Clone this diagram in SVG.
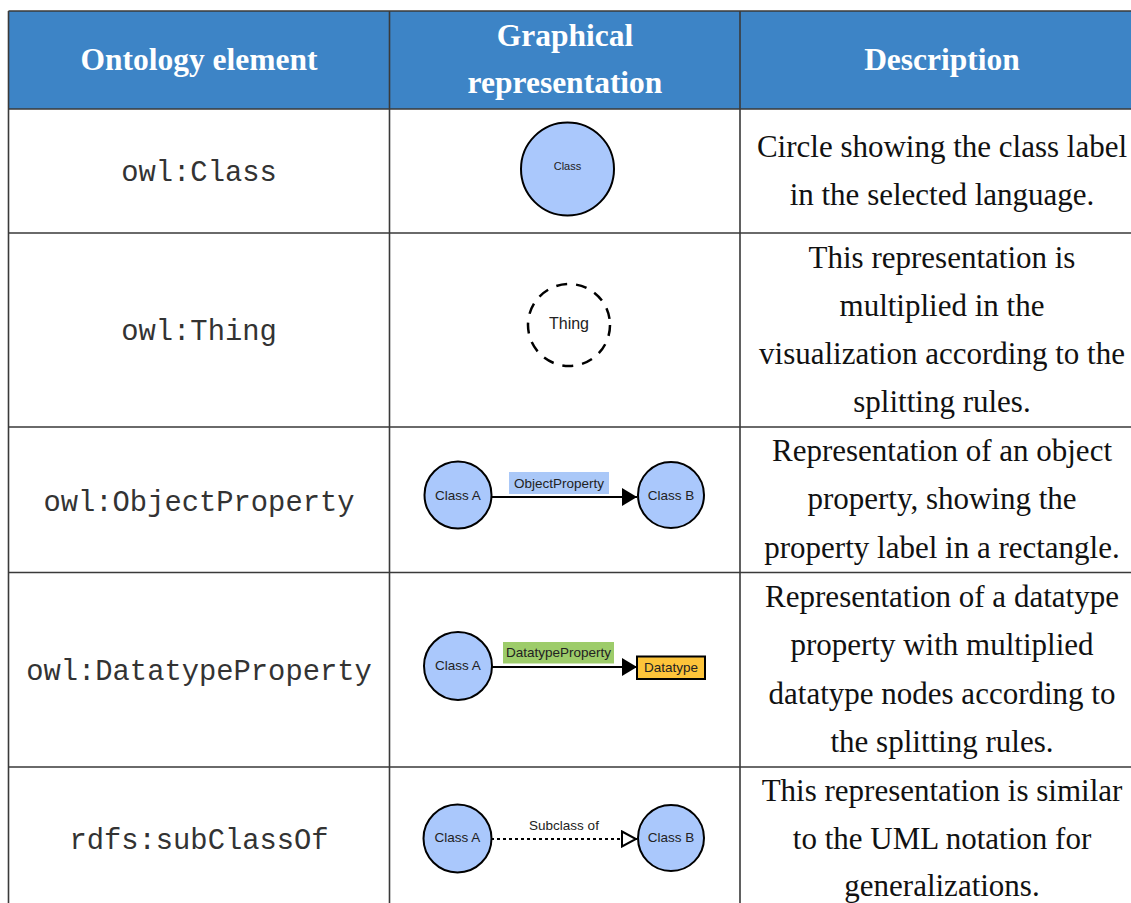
<svg xmlns="http://www.w3.org/2000/svg" width="1131" height="903" viewBox="0 0 1131 903">
<style>
.hdr{font-family:"Liberation Serif",serif;font-weight:bold;font-size:31.5px;fill:#fff;text-anchor:middle}
.mono{font-family:"Liberation Mono",monospace;font-size:28.8px;fill:#333;text-anchor:middle}
.desc{font-family:"Liberation Serif",serif;font-size:31px;fill:#111;text-anchor:middle}
.grid{stroke:#3a3a3a;stroke-width:1.6;fill:none}
.cls{fill:#aac8fc;stroke:#000;stroke-width:2}
.lbl{font-family:"Liberation Sans",Arial,sans-serif;font-size:13.5px;fill:#222;text-anchor:middle}
.edge{stroke:#000;stroke-width:2;fill:none}
</style>
<defs>
<marker id="arr" markerWidth="16" markerHeight="18" refX="15" refY="9" orient="auto" markerUnits="userSpaceOnUse">
<path d="M0,0 L15,9 L0,18 Z" fill="#000"/>
</marker>
<marker id="tri" markerWidth="17" markerHeight="18" refX="16" refY="9" orient="auto" markerUnits="userSpaceOnUse">
<path d="M1,1.5 L15,9 L1,16.5 Z" fill="#fff" stroke="#000" stroke-width="2"/>
</marker>
</defs>
<rect width="1131" height="903" fill="#fff"/>
<g id="table">
<rect x="8.5" y="11" width="1130" height="98" fill="#3d84c6"/>
<path class="grid" d="M8.5,11 H1131 M8.5,11 V903 M389.5,11 V903 M740,11 V903 M8.5,109 H1131 M8.5,233 H1131 M8.5,427 H1131 M8.5,572.5 H1131 M8.5,767 H1131"/>
<text class="hdr" x="199" y="70">Ontology element</text>
<text class="hdr" x="565" y="46">Graphical</text>
<text class="hdr" x="565" y="93">representation</text>
<text class="hdr" x="942" y="70">Description</text>
</g>
<g id="col1">
<text class="mono" x="199" y="181">owl:Class</text>
<text class="mono" x="199" y="340">owl:Thing</text>
<text class="mono" x="199" y="511">owl:ObjectProperty</text>
<text class="mono" x="199" y="680">owl:DatatypeProperty</text>
<text class="mono" x="199" y="849">rdfs:subClassOf</text>
</g>
<g id="col3">
<text class="desc" x="942" y="157">Circle showing the class label</text>
<text class="desc" x="942" y="205">in the selected language.</text>
<text class="desc" x="942" y="268">This representation is</text>
<text class="desc" x="942" y="316">multiplied in the</text>
<text class="desc" x="942" y="364">visualization according to the</text>
<text class="desc" x="942" y="412">splitting rules.</text>
<text class="desc" x="942" y="461">Representation of an object</text>
<text class="desc" x="942" y="509">property, showing the</text>
<text class="desc" x="942" y="558">property label in a rectangle.</text>
<text class="desc" x="942" y="607">Representation of a datatype</text>
<text class="desc" x="942" y="655">property with multiplied</text>
<text class="desc" x="942" y="704">datatype nodes according to</text>
<text class="desc" x="942" y="752">the splitting rules.</text>
<text class="desc" x="942" y="801">This representation is similar</text>
<text class="desc" x="942" y="849">to the UML notation for</text>
<text class="desc" x="942" y="896">generalizations.</text>
</g>
<g id="connectors">
<line class="edge" x1="491" y1="497" x2="637" y2="497" marker-end="url(#arr)"/>
<line class="edge" x1="492" y1="667" x2="637" y2="667" marker-end="url(#arr)"/>
<line class="edge" x1="491" y1="839" x2="637" y2="839" stroke-dasharray="3,3" marker-end="url(#tri)"/>
</g>
<g id="node-class">
<circle class="cls" cx="567.5" cy="169" r="46.5"/>
<text class="lbl" x="567.5" y="166" dy="0.35em" style="font-size:11px">Class</text>
</g>
<g id="node-thing">
<circle cx="569" cy="325" r="41" fill="#fff" stroke="#000" stroke-width="2.5" stroke-dasharray="11,9"/>
<text class="lbl" x="569" y="323" dy="0.35em" style="font-size:16px">Thing</text>
</g>
<g id="node-op-a">
<circle class="cls" cx="458" cy="495" r="33.5"/>
<text class="lbl" x="458" y="495" dy="0.35em">Class A</text>
</g>
<g id="node-op-label">
<rect x="509" y="472" width="100" height="22" fill="#aac8f8"/>
<text class="lbl" x="559" y="483" dy="0.35em">ObjectProperty</text>
</g>
<g id="node-op-b">
<circle class="cls" cx="671" cy="495" r="33"/>
<text class="lbl" x="671" y="495" dy="0.35em">Class B</text>
</g>
<g id="node-dp-a">
<circle class="cls" cx="458" cy="666" r="34"/>
<text class="lbl" x="458" y="665" dy="0.35em">Class A</text>
</g>
<g id="node-dp-label">
<rect x="503" y="642" width="111" height="21.5" fill="#9dcc6a"/>
<text class="lbl" x="558.5" y="652.5" dy="0.35em">DatatypeProperty</text>
</g>
<g id="node-datatype">
<rect x="637" y="656.5" width="68" height="22.5" fill="#fdc43a" stroke="#000" stroke-width="2"/>
<text class="lbl" x="671" y="667.5" dy="0.35em">Datatype</text>
</g>
<g id="node-sc-a">
<circle class="cls" cx="457.5" cy="838.5" r="34"/>
<text class="lbl" x="457.5" y="837" dy="0.35em">Class A</text>
</g>
<g id="node-sc-label">
<text class="lbl" x="564" y="825" dy="0.35em">Subclass of</text>
</g>
<g id="node-sc-b">
<circle class="cls" cx="671" cy="838" r="33"/>
<text class="lbl" x="671" y="837" dy="0.35em">Class B</text>
</g>
</svg>
